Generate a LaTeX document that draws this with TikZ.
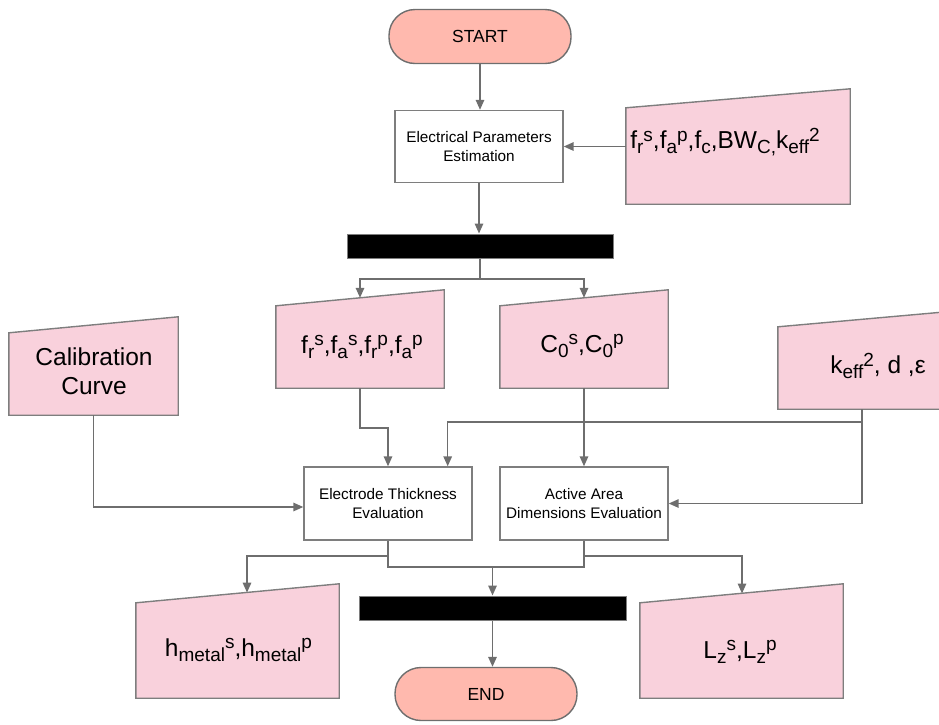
\documentclass[tikz,border=0pt]{standalone}
\usepackage{fontspec}
\setmainfont{Liberation Sans}
\usetikzlibrary{arrows.meta,calc}
\definecolor{pinkc}{HTML}{F9D1DC}
\definecolor{salmonc}{HTML}{FFB9AE}
\definecolor{edgec}{HTML}{7E7E7E}
\definecolor{linec}{HTML}{6E6E6E}
\newcommand\lo[1]{\raisebox{-0.2em}{\fontsize{19}{19}\selectfont #1}}
\newcommand\hi[1]{\raisebox{0.30em}{\fontsize{19}{19}\selectfont #1}}
\tikzset{
  conn/.style={draw=linec, line width=1.5pt},
  arr/.style={conn, -{Triangle[length=10pt,width=8.5pt]}},
  procbox/.style={draw=edgec, line width=1.4pt, fill=white, minimum width=168pt,
    minimum height=72pt, align=center, inner sep=0pt,
    font=\fontsize{15.3}{19}\selectfont},
  term/.style={draw=linec, line width=1.4pt, fill=salmonc, rounded corners=26pt,
    minimum width=182pt, minimum height=54pt, inner sep=0pt,
    font=\fontsize{17.5}{20}\selectfont},
  blackbar/.style={fill=black, draw=edgec, line width=1pt, minimum height=24pt, inner sep=0pt},
  area/.style={draw=none, inner sep=0pt},
  intext/.style={font=\fontsize{24.5}{29}\selectfont, align=center, inner sep=0pt},
  manshape/.style={fill=pinkc, draw=edgec, line width=1.4pt},
}
\begin{document}
\begin{tikzpicture}[x=1pt,y=-1pt]
\useasboundingbox (0,0) rectangle (939,724);

% terminators and process boxes
\node[term] (start) at (480,36.5) {START};
\node[procbox] (eps) at (479,146.5) {Electrical Parameters\\Estimation};

% input 1
\node[area, minimum width=224pt, minimum height=115pt] (in1) at (738,146.5) {};
\draw[manshape] (in1.south west) -- (in1.south east) -- (in1.north east) -- ($(in1.north west)+(0,19)$) -- cycle;
\node[intext] (in1t) at (725,142) {f\lo{r}\hi{s},f\lo{a}\hi{p},f\lo{c},BW\lo{C,}k\lo{eff}\hi{2}};

% bar 1
\node[blackbar, minimum width=266pt] (bar1) at (480,246) {};

% input 2 and 3
\node[area, minimum width=168pt, minimum height=98pt] (in2) at (360,339) {};
\draw[manshape] (in2.south west) -- (in2.south east) -- (in2.north east) -- ($(in2.north west)+(0,16)$) -- cycle;
\node[intext] (in2t) at (362,347) {f\lo{r}\hi{s},f\lo{a}\hi{s},f\lo{r}\hi{p},f\lo{a}\hi{p}};

\node[area, minimum width=168pt, minimum height=98pt] (in3) at (584,339) {};
\draw[manshape] (in3.south west) -- (in3.south east) -- (in3.north east) -- ($(in3.north west)+(0,16)$) -- cycle;
\node[intext] (in3t) at (582,346) {C\lo{0}\hi{s},C\lo{0}\hi{p}};

% calibration
\node[area, minimum width=169pt, minimum height=98pt] (cal) at (93.5,366) {};
\draw[manshape] (cal.south west) -- (cal.south east) -- (cal.north east) -- ($(cal.north west)+(0,16)$) -- cycle;
\node[intext] (calt) at (94,371.5) {Calibration\\Curve};

% keff
\node[area, minimum width=168pt, minimum height=97pt] (keff) at (862,360.5) {};
\draw[manshape] (keff.south west) -- (keff.south east) -- (keff.north east) -- ($(keff.north west)+(0,15)$) -- cycle;
\node[intext] (kefft) at (878,366) {k\lo{eff}\hi{2}, d ,ε};

% evaluation boxes
\node[procbox, minimum height=73pt] (ele) at (388,503.5) {Electrode Thickness\\Evaluation};
\node[procbox, minimum height=73pt] (act) at (584,503.5) {Active Area\\Dimensions Evaluation};

% bar 2
\node[blackbar, minimum width=267pt] (bar2) at (492.5,608) {};

% outputs
\node[area, minimum width=203pt, minimum height=114pt] (hm) at (237.5,641) {};
\draw[manshape] (hm.south west) -- (hm.south east) -- (hm.north east) -- ($(hm.north west)+(0,19)$) -- cycle;
\node[intext] (hmt) at (238.5,650) {h\lo{metal}\hi{s},h\lo{metal}\hi{p}};

\node[area, minimum width=203pt, minimum height=114pt] (lz) at (741.5,641) {};
\draw[manshape] (lz.south west) -- (lz.south east) -- (lz.north east) -- ($(lz.north west)+(0,19)$) -- cycle;
\node[intext] (lzt) at (740,652) {L\lo{z}\hi{s},L\lo{z}\hi{p}};

\node[term, minimum height=53pt] (end) at (486,694) {END};

% connectors
\draw[arr] (start.south) -- (start.south |- eps.north);
\draw[arr] (in1.west) -- (eps.east);
\draw[arr] (eps.south) -- (eps.south |- bar1.north);

\coordinate (j1) at (480,279);
\coordinate (in2top) at ($(in2.north)+(0,8)$);
\coordinate (in3top) at ($(in3.north)+(0,8)$);
\draw[conn] (bar1.south) -- (j1);
\draw[arr] (j1) -| (in2top);
\draw[arr] (j1) -| (in3top);

\draw[arr] (in2.south) -- ++(0,40) -| (ele.north);
\draw[arr] (in3.south) -- (act.north);
\coordinate (elewest) at ($(ele.west)+(0,3.5)$);
\draw[arr] (cal.south) |- (elewest);

\coordinate (j2) at (862,422);
\coordinate (elein) at ($(ele.north east)+(-25,0)$);
\draw[conn] (keff.south) -- (j2);
\draw[arr] (j2) |- (act.east);
\draw[arr] (j2) -| (elein);

\coordinate (j3) at (388,567);
\coordinate (j4) at (584,567);
\coordinate (j5) at (492.5,567);
\draw[conn] (ele.south) -- (j3) -- (j4) -- (act.south);
\draw[arr] (j5) -- (bar2.north);

\coordinate (j6) at (388,556);
\coordinate (hmtop) at (247,592.6);
\draw[arr] (j6) -| (hmtop);
\coordinate (j7) at (584,556);
\coordinate (lztop) at (742,593.5);
\draw[arr] (j7) -| (lztop);

\draw[arr] (bar2.south) -- (bar2.south |- end.north);
\end{tikzpicture}
\end{document}
